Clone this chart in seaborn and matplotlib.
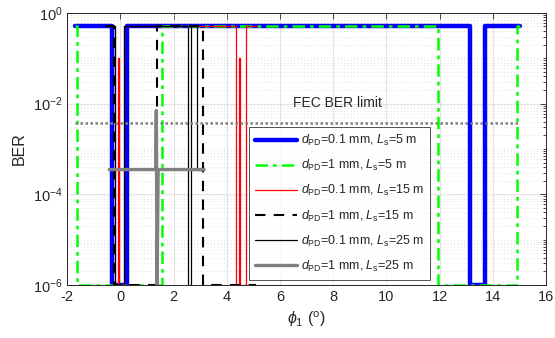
import numpy as np
import pandas as pd
import matplotlib
matplotlib.use("Agg")
import matplotlib.pyplot as plt
import matplotlib.ticker as mticker
import seaborn as sns

# ---- data ----
x_b5 = [-1.7, -0.32, -0.32, 0.24, 0.24, 13.15, 13.15, 13.71, 13.71, 15.0]
y_b5 = [0.5, 0.5, 1e-6, 1e-6, 0.5, 0.5, 1e-6, 1e-6, 0.5, 0.5]

x_g5 = [-1.7, -1.62, -1.62, 1.56, 1.56, 11.93, 11.93, 14.9, 14.9, 15.0]
y_g5 = [0.5, 0.5, 1e-6, 1e-6, 0.5, 0.5, 1e-6, 1e-6, 0.5, 0.5]

x_r15 = [-0.55, -0.22, -0.22, -0.1, -0.1, -0.06, -0.06, 0.14, 0.14,
         4.33, 4.33, 4.45, 4.45, 4.5, 4.5, 4.72, 4.72, 5.15]
y_r15 = [0.5, 0.5, 1e-6, 1e-6, 0.1, 0.1, 1e-6, 1e-6, 0.5,
         0.5, 1e-6, 1e-6, 0.1, 0.1, 1e-6, 1e-6, 0.5, 0.5]

x_k15 = [-0.5, -0.25, -0.25, 1.37, 1.37, 3.1, 3.1, 5.1]
y_k15 = [0.5, 0.5, 1e-6, 1e-6, 0.5, 0.5, 1e-6, 1e-6]

x_k25 = [-0.57, -0.2, -0.2, 0.12, 0.12, 2.56, 2.56, 2.64, 2.64, 2.87, 2.87, 3.15]
y_k25 = [0.5, 0.5, 1e-6, 1e-6, 0.5, 0.5, 1e-6, 1e-6, 0.5, 0.5, 3.5e-4, 3.5e-4]

x_gr25 = [-0.42, 1.33, 1.35, 1.38, 1.42, 3.15]
y_gr25 = [3.5e-4, 3.5e-4, 7e-3, 1e-6, 3.5e-4, 3.5e-4]

fec_x = [-1.7, 15.0]
fec_y = [3.8e-3, 3.8e-3]

labels = [r"$d_{\mathrm{PD}}$=0.1 mm, $L_{\mathrm{s}}$=5 m",
          r"$d_{\mathrm{PD}}$=1 mm, $L_{\mathrm{s}}$=5 m",
          r"$d_{\mathrm{PD}}$=0.1 mm, $L_{\mathrm{s}}$=15 m",
          r"$d_{\mathrm{PD}}$=1 mm, $L_{\mathrm{s}}$=15 m",
          r"$d_{\mathrm{PD}}$=0.1 mm, $L_{\mathrm{s}}$=25 m",
          r"$d_{\mathrm{PD}}$=1 mm, $L_{\mathrm{s}}$=25 m"]

series = [(x_b5, y_b5), (x_g5, y_g5), (x_r15, y_r15),
          (x_k15, y_k15), (x_k25, y_k25), (x_gr25, y_gr25)]

styles = [dict(color="#0000ff", lw=3.2, ls="-"),
          dict(color="#00ff00", lw=1.8, ls=(0, (5, 2, 1.5, 2))),
          dict(color="#ff0000", lw=0.9, ls="-"),
          dict(color="black", lw=1.5, ls=(0, (5, 4))),
          dict(color="black", lw=0.9, ls="-"),
          dict(color="#808080", lw=2.4, ls="-")]

sns.set_theme(style="white")
plt.rcParams['font.family'] = ['Liberation Sans', 'DejaVu Sans']
plt.rcParams['mathtext.fontset'] = 'custom'
plt.rcParams['mathtext.rm'] = 'Liberation Sans'
plt.rcParams['mathtext.it'] = 'Liberation Sans:italic'
plt.rcParams['axes.unicode_minus'] = False

fig = plt.figure(figsize=(5.55, 3.38), dpi=100)
ax = fig.add_axes([0.121, 0.157, 0.863, 0.805])
ax.set_axisbelow(True)

for (xs, ys), lab, st in zip(series, labels, styles):
    df = pd.DataFrame({"x": xs, "y": ys})
    sns.lineplot(data=df, x="x", y="y", ax=ax, sort=False, estimator=None,
                 color=st["color"], linewidth=st["lw"], label=lab)
    ax.lines[-1].set_linestyle(st["ls"])

fdf = pd.DataFrame({"x": fec_x, "y": fec_y})
sns.lineplot(data=fdf, x="x", y="y", ax=ax, sort=False, estimator=None,
             color="#808080", linewidth=1.8, legend=False)
ax.lines[-1].set_linestyle((0, (1, 1)))

ax.set_yscale("log")
ax.set_xlim(-2, 16)
ax.set_ylim(1e-6, 1)
ax.set_xticks(np.arange(-2, 17, 2))
ax.yaxis.set_major_locator(mticker.FixedLocator([1e-6, 1e-4, 1e-2, 1e0]))
ax.yaxis.set_minor_locator(mticker.LogLocator(base=10, subs=np.arange(1, 10), numticks=20))
ax.yaxis.set_major_formatter(mticker.LogFormatterSciNotation())
ax.yaxis.set_minor_formatter(mticker.NullFormatter())

ax.grid(True, which="major", axis="both", color="#e3e3e3", lw=0.8, ls="-")
ax.grid(True, which="minor", axis="y", color="#d6d6d6", lw=0.6, ls=(0, (1, 3)))

ax.tick_params(axis="both", which="both", direction="in", top=True, right=True,
               labelsize=10.5, colors="#262626", width=0.6)
ax.tick_params(axis="both", which="major", length=4)
ax.tick_params(axis="y", which="minor", length=2.2)
for sp in ax.spines.values():
    sp.set_color("#262626")
    sp.set_linewidth(0.7)

ax.set_xlabel(r"$\phi_1$ ($^{\mathrm{o}}$)", fontsize=11.5, color="#262626")
ax.set_ylabel("BER", fontsize=11.5, color="#262626", labelpad=4)

ax.text(6.5, 8.5e-3, "FEC BER limit", fontsize=10, color="#262626")

leg = ax.legend(loc="lower left", bbox_to_anchor=(0.38, 0.018), fontsize=9,
                frameon=True, fancybox=False, edgecolor="#262626",
                handlelength=3.3, borderpad=0.5, labelspacing=0.8,
                handletextpad=0.35, borderaxespad=0)
leg.get_frame().set_linewidth(0.7)
for h, st in zip(leg.get_lines(), styles):
    h.set_linestyle(st["ls"])

fig.savefig("out.png", dpi=100)
